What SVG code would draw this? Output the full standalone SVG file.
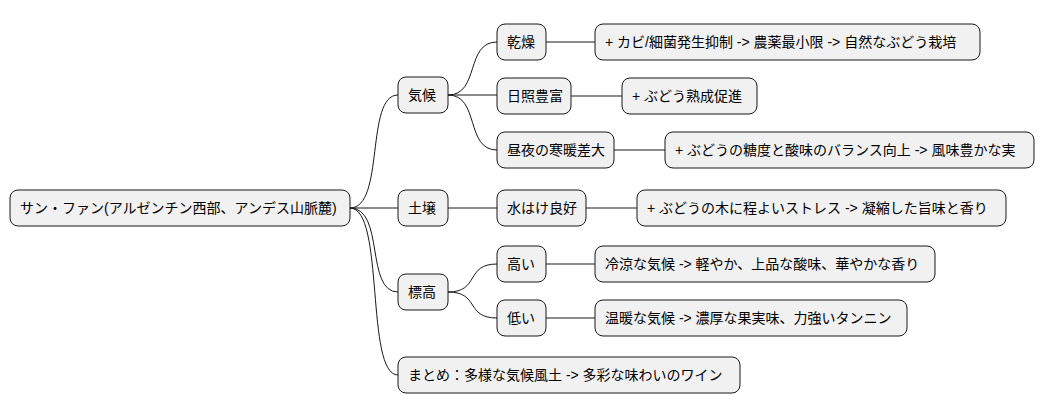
<svg xmlns="http://www.w3.org/2000/svg" width="1045" height="415" viewBox="0 0 1045 415">
<style>
rect{fill:#f1f1f1;stroke:#181818;stroke-width:1}
text{font-family:"Liberation Sans","Noto Sans CJK JP",sans-serif;font-size:14px;fill:#000;dominant-baseline:central}
#c path{fill:none;stroke:#181818;stroke-width:1}
</style>
<rect x="0" y="0" width="1045" height="415" style="fill:#fff;stroke:none"/>
<g id="c">
<path d="M350 208 C385 208 365 95 398 95"/>
<path d="M350 208 H398"/>
<path d="M350 208 C385 208 365 292 398 292"/>
<path d="M350 208 C385 208 365 375 398 375"/>
<path d="M448 95 C480 95 465 42 497 42"/>
<path d="M448 95 H497"/>
<path d="M448 95 C480 95 465 150 497 150"/>
<path d="M448 292 C480 292 465 264 497 264"/>
<path d="M448 292 C480 292 465 318 497 318"/>
<path d="M546 42 H595"/>
<path d="M571 96 H622"/>
<path d="M614 150 H665"/>
<path d="M448 208 H497"/>
<path d="M586 208 H637"/>
<path d="M546 264 H595"/>
<path d="M546 318 H595"/>
</g>
<g id="root"><rect x="10" y="190" width="340" height="36" rx="8"/><text x="20" y="208">サン・ファン(アルゼンチン西部、アンデス山脈麓)</text></g>
<g id="kikou"><rect x="398" y="77" width="50" height="36" rx="8"/><text x="408" y="95">気候</text></g>
<g id="kansou"><rect x="497" y="24" width="49" height="36" rx="8"/><text x="507" y="42">乾燥</text></g>
<g id="kansou1"><rect x="595" y="24" width="385" height="36" rx="8"/><text x="605" y="42">+ カビ/細菌発生抑制 -&gt; 農薬最小限 -&gt; 自然なぶどう栽培</text></g>
<g id="nissho"><rect x="497" y="78" width="74" height="36" rx="8"/><text x="507" y="96">日照豊富</text></g>
<g id="nissho1"><rect x="622" y="78" width="135" height="36" rx="8"/><text x="632" y="96">+ ぶどう熟成促進</text></g>
<g id="kandan"><rect x="497" y="132" width="117" height="36" rx="8"/><text x="507" y="150">昼夜の寒暖差大</text></g>
<g id="kandan1"><rect x="665" y="132" width="369" height="36" rx="8"/><text x="675" y="150">+ ぶどうの糖度と酸味のバランス向上 -&gt; 風味豊かな実</text></g>
<g id="dojou"><rect x="398" y="190" width="50" height="36" rx="8"/><text x="408" y="208">土壌</text></g>
<g id="mizu"><rect x="497" y="190" width="89" height="36" rx="8"/><text x="507" y="208">水はけ良好</text></g>
<g id="mizu1"><rect x="637" y="190" width="369" height="36" rx="8"/><text x="647" y="208">+ ぶどうの木に程よいストレス -&gt; 凝縮した旨味と香り</text></g>
<g id="hyoukou"><rect x="398" y="274" width="50" height="36" rx="8"/><text x="408" y="292">標高</text></g>
<g id="takai"><rect x="497" y="246" width="49" height="36" rx="8"/><text x="507" y="264">高い</text></g>
<g id="takai1"><rect x="595" y="246" width="340" height="36" rx="8"/><text x="605" y="264">冷涼な気候 -&gt; 軽やか、上品な酸味、華やかな香り</text></g>
<g id="hikui"><rect x="497" y="300" width="49" height="36" rx="8"/><text x="507" y="318">低い</text></g>
<g id="hikui1"><rect x="595" y="300" width="312" height="36" rx="8"/><text x="605" y="318">温暖な気候 -&gt; 濃厚な果実味、力強いタンニン</text></g>
<g id="matome"><rect x="398" y="357" width="342" height="36" rx="8"/><text x="408" y="375">まとめ：多様な気候風土 -&gt; 多彩な味わいのワイン</text></g>
</svg>
